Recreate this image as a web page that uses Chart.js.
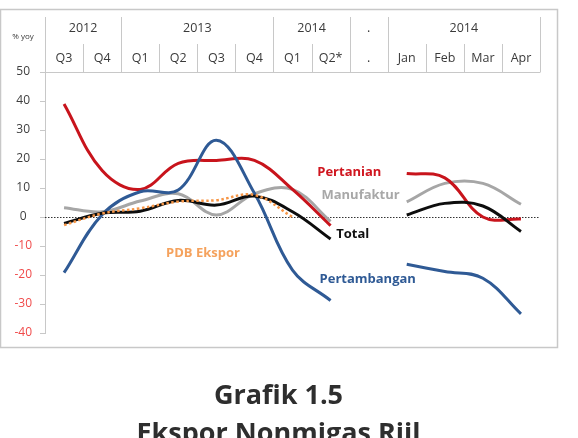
<!DOCTYPE html>
<html>
<head>
<meta charset="utf-8">
<script src="https://cdn.jsdelivr.net/npm/chart.js@4.4.1/dist/chart.umd.min.js"></script>
<style>
  body { margin: 0; background: #fff; }
  #wrap { position: relative; width: 578px; height: 438px; overflow: hidden; }
  #mycanvas { position: absolute; left: 0; top: 0; }
  #title { position: absolute; left: 0; top: 375px; width: 557px; text-align: center;
    font-family: "Open Sans", sans-serif; font-weight: bold; font-size: 27px; line-height: 38px; color: #2e2e2e; }
</style>
</head>
<body>
<div id="wrap">
  <canvas id="mycanvas" width="578" height="438"></canvas>
  <div id="title">Grafik 1.5<br>Ekspor Nonmigas Riil</div>
</div>
<script>
var labels = ['Q3', 'Q4', 'Q1', 'Q2', 'Q3', 'Q4', 'Q1', 'Q2*', '.', 'Jan', 'Feb', 'Mar', 'Apr'];
var years = ['2012', '2013', '2014', '.', '2014'];
var yearSpans = [2, 4, 2, 1, 4];

var pertanian = [39, 16, 9.5, 18.5, 19.5, 19.5, 9.5, -3, null, 15, 13.5, 0, -0.7];
var manufaktur = [3.2, 1.8, 5.5, 8, 0.7, 8, 9.5, -1.5, null, 5.2, 11.6, 11.6, 4.4];
var total = [-2.2, 1.3, 2, 5.7, 4.1, 7.2, 1.8, -7.6, null, 0.7, 4.7, 3.8, -5];
var pertambangan = [-19.2, 0.8, 8.7, 9.3, 26.5, 8.2, -18.3, -28.8, null, -16.3, -18.8, -21.1, -33.4];
var pdbEkspor = [-2.8, 1.2, 3, 5.3, 5.8, 7.6, 0, null, null, null, null, null, null];

var font = '"Open Sans", sans-serif';
var lineGray = '#c8c8c8';

// text tags next to the lines, placed in data units (category index, value)
var tags = [
  { text: 'Pertanian', color: '#d0161f', at: [6.65, 15.3] },
  { text: 'Manufaktur', color: '#a8a8a8', at: [6.76, 7.6] },
  { text: 'Total', color: '#111111', at: [7.15, -5.8] },
  { text: 'PDB Ekspor', color: '#f5a25d', at: [2.68, -12.6] },
  { text: 'Pertambangan', color: '#2f5a95', at: [6.71, -21.5] }
];

var decor = {
  id: 'decor',
  beforeDatasetsDraw: function(chart) {
    var ctx = chart.ctx, y = chart.scales.y, area = chart.chartArea;
    var y0 = Math.round(y.getPixelForValue(0)) + 0.5;
    ctx.save();
    ctx.strokeStyle = '#333';
    ctx.lineWidth = 1;
    ctx.setLineDash([1.5, 1.5]);
    ctx.beginPath();
    ctx.moveTo(area.left, y0);
    ctx.lineTo(area.right, y0);
    ctx.stroke();
    ctx.restore();
  },
  afterDraw: function(chart) {
    var ctx = chart.ctx, x = chart.scales.x, y = chart.scales.y, area = chart.chartArea;
    var top = Math.round(area.top) + 0.5;
    function edge(i) { return Math.round((x.getPixelForValue(i - 1) + x.getPixelForValue(i)) / 2) + 0.5; }

    ctx.save();
    // outer frame
    ctx.strokeStyle = lineGray;
    ctx.lineWidth = 1.5;
    ctx.strokeRect(0.5, 9.5, 557, 338);

    ctx.lineWidth = 1;
    ctx.beginPath();
    ctx.moveTo(area.left, top);
    ctx.lineTo(area.right, top);
    // year separators
    var idx = 0;
    ctx.moveTo(Math.round(area.left) + 0.5, 17);
    ctx.lineTo(Math.round(area.left) + 0.5, top);
    for (var g = 0; g < years.length; g++) {
      idx += yearSpans[g];
      ctx.moveTo(edge(idx), 17);
      ctx.lineTo(edge(idx), top);
    }
    // quarter / month separators
    idx = 0;
    for (var g2 = 0; g2 < years.length; g2++) {
      for (var k = 1; k < yearSpans[g2]; k++) {
        ctx.moveTo(edge(idx + k), 44);
        ctx.lineTo(edge(idx + k), top);
      }
      idx += yearSpans[g2];
    }
    ctx.stroke();

    ctx.fillStyle = '#3a3a3a';
    ctx.textAlign = 'center';
    ctx.textBaseline = 'middle';
    ctx.font = '12.5px ' + font;
    idx = 0;
    for (var g3 = 0; g3 < years.length; g3++) {
      var cx = (x.getPixelForValue(idx) + x.getPixelForValue(idx + yearSpans[g3] - 1)) / 2;
      ctx.fillText(years[g3], cx, 28);
      idx += yearSpans[g3];
    }
    for (var i = 0; i < labels.length; i++) {
      ctx.fillText(labels[i], x.getPixelForValue(i), 58);
    }
    ctx.font = '8px ' + font;
    ctx.fillText('% yoy', 23, 37);

    // line tags
    ctx.textAlign = 'left';
    ctx.font = 'bold 13px ' + font;
    tags.forEach(function(t) {
      ctx.fillStyle = t.color;
      ctx.fillText(t.text, x.getPixelForValue(t.at[0]), y.getPixelForValue(t.at[1]));
    });
    ctx.restore();
  }
};

var chartdata = {
  labels: labels,
  datasets: [
    { label: 'PDB Ekspor', data: pdbEkspor, borderColor: '#f79646', borderWidth: 2.5, borderDash: [2.5, 2.5] },
    { label: 'Total', data: total, borderColor: '#0d0d0d', borderWidth: 3 },
    { label: 'Pertambangan', data: pertambangan, borderColor: '#2f5a95', borderWidth: 3 },
    { label: 'Pertanian', data: pertanian, borderColor: '#c8141c', borderWidth: 3 },
    { label: 'Manufaktur', data: manufaktur, borderColor: '#a6a6a6', borderWidth: 3 }
  ]
};

var ctx = document.getElementById('mycanvas');

var lineGraph = new Chart(ctx, {
  type: 'line',
  data: chartdata,
  plugins: [decor],
  options: {
    responsive: false,
    animation: false,
    devicePixelRatio: 1,
    spanGaps: false,
    layout: { padding: { left: 0, top: 72, right: 38, bottom: 105 } },
    elements: {
      point: { radius: 0 },
      line: { tension: 0.38, fill: false, capBezierPoints: false }
    },
    plugins: {
      legend: { display: false },
      tooltip: { enabled: false }
    },
    scales: {
      x: {
        display: false,
        offset: true
      },
      y: {
        min: -40,
        max: 50,
        afterFit: function(scale) { scale.width = 45; },
        ticks: {
          stepSize: 10,
          padding: 8,
          crossAlign: 'center',
          font: { family: font, size: 12 },
          color: function(c) { return c.tick.value < 0 ? '#f04a4a' : '#404040'; }
        },
        grid: { drawOnChartArea: false, tickLength: 5, tickColor: lineGray },
        border: { color: lineGray }
      }
    }
  }
});
</script>
</body>
</html>
